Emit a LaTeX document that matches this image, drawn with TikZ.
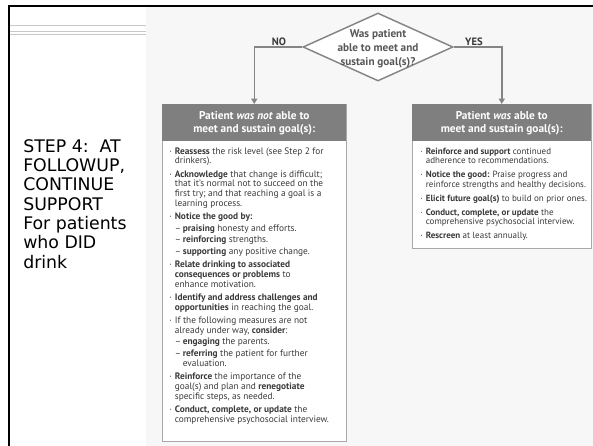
\documentclass[tikz,border=0pt]{standalone}
\usepackage{fontspec}
\setmainfont{DejaVu Sans}
\newfontfamily\chartfont{PT Sans}
\usetikzlibrary{shapes.geometric,arrows.meta}

\definecolor{slidegray}{HTML}{F7F7F7}
\definecolor{headgray}{HTML}{7F7F7F}
\definecolor{linegray}{HTML}{858585}
\definecolor{framegray}{HTML}{A8A8A8}
\definecolor{inkgray}{HTML}{3A3A3A}
\definecolor{rulegray}{HTML}{C8C8C8}

\newcommand{\bul}{\makebox[4.2pt][l]{·}}
\newcommand{\dsh}{\makebox[6pt][l]{–}}
\newcommand{\indt}{\hspace*{4.2pt}}
\newcommand{\igap}{2.6pt}
\newcommand{\sgap}{1.3pt}

\begin{document}
\begin{tikzpicture}[x=0.75pt,y=-0.75pt]
    \tikzstyle{panel}=[draw=framegray, fill=white, line width=0.8pt, anchor=north west, inner sep=0pt]
    \tikzstyle{head}=[fill=headgray, anchor=north west, inner sep=0pt, text=white, align=center,
      font=\chartfont\bfseries\fontsize{8.5}{9.75}\selectfont]
    \tikzstyle{body}=[anchor=base west, inner sep=0pt, text=inkgray, font=\chartfont\fontsize{7}{7.35}\selectfont]
    \tikzstyle{flow}=[draw=linegray, line width=1.1pt, -{Triangle[width=4.5pt,length=4pt]}]
    \tikzstyle{yn}=[text=inkgray, font=\chartfont\bfseries\fontsize{8}{9}\selectfont]
    \useasboundingbox (0,0) rectangle (593,446);
    % slide
    \fill[white] (0,0) rectangle (593,446);
    \fill[slidegray] (146,7) rectangle (593,446);
    \foreach \y in {25,31,34} {\draw[rulegray, line width=0.6pt] (10,\y) -- (146,\y);}
    \draw[black, line width=1.7pt] (9,446) -- (9,6) -- (593,6);
    \node[anchor=base west, inner sep=0pt, font=\fontsize{13}{14.5}\selectfont] (step) at (23,152)
      {\begin{tabular}[t]{@{}l@{}}STEP 4:\ \ AT\\FOLLOWUP,\\CONTINUE\\SUPPORT\\For patients\\who DID\\drink\end{tabular}};
    % question
    \node[diamond, draw=linegray, fill=white, line width=1.1pt, inner sep=0pt,
      minimum width=112.5pt, minimum height=51pt] (goal) at (378,47) {};
    \node[align=center, text=inkgray!85, font=\chartfont\bfseries\fontsize{8.4}{10.5}\selectfont] (ask) at (378,49)
      {Was patient\\able to meet and\\sustain goal(s)?};
    % not able
    \node[panel, minimum width=138pt, minimum height=252.75pt] (nobox) at (162,104) {};
    \node[head, minimum width=138pt, minimum height=27.75pt] (nohead) at (162,104)
      {Patient \textit{was not} able to\\meet and sustain goal(s):};
    \node[body] (notext) at (169,154) {\begin{tabular}[t]{@{}l@{}}
      \bul\textbf{Reassess} the risk level (see Step 2 for\\
      \indt drinkers).\\[\igap]
      \bul\textbf{Acknowledge} that change is difficult;\\
      \indt that it’s normal not to succeed on the\\
      \indt first try; and that reaching a goal is a\\
      \indt learning process.\\[\igap]
      \bul\textbf{Notice the good by:}\\[\sgap]
      \indt\dsh\textbf{praising} honesty and efforts.\\[\sgap]
      \indt\dsh\textbf{reinforcing} strengths.\\[\sgap]
      \indt\dsh\textbf{supporting} any positive change.\\[\igap]
      \bul\textbf{Relate drinking to associated}\\
      \indt\textbf{consequences or problems} to\\
      \indt enhance motivation.\\[\igap]
      \bul\textbf{Identify and address challenges and}\\
      \indt\textbf{opportunities} in reaching the goal.\\[\igap]
      \bul If the following measures are not\\
      \indt already under way, \textbf{consider}:\\[\sgap]
      \indt\dsh\textbf{engaging} the parents.\\[\sgap]
      \indt\dsh\textbf{referring} the patient for further\\
      \indt\hspace*{6pt}evaluation.\\[\igap]
      \bul\textbf{Reinforce} the importance of the\\
      \indt goal(s) and plan and \textbf{renegotiate}\\
      \indt specific steps, as needed.\\[\igap]
      \bul\textbf{Conduct, complete, or update} the\\
      \indt comprehensive psychosocial interview.
    \end{tabular}};
    % able
    \node[panel, minimum width=134.25pt, minimum height=108pt] (yesbox) at (412,104) {};
    \node[head, minimum width=134.25pt, minimum height=27.75pt] (yeshead) at (412,104)
      {Patient \textit{was} able to\\meet and sustain goal(s):};
    \node[body, font=\chartfont\fontsize{6.75}{7.35}\selectfont] (yestext) at (420,154) {\begin{tabular}[t]{@{}l@{}}
      \bul\textbf{Reinforce and support} continued\\
      \indt adherence to recommendations.\\[3pt]
      \bul\textbf{Notice the good:} Praise progress and\\
      \indt reinforce strengths and healthy decisions.\\[3pt]
      \bul\textbf{Elicit future goal(s)} to build on prior ones.\\[3pt]
      \bul\textbf{Conduct, complete, or update} the\\
      \indt comprehensive psychosocial interview.\\[3pt]
      \bul\textbf{Rescreen} at least annually.
    \end{tabular}};
    % branches
    \draw[flow] (goal.west) -| (nohead.north);
    \draw[flow] (goal.east) -| (yeshead.north);
    \node[yn] (no) at (279,42) {NO};
    \node[yn] (yes) at (474,42) {YES};
\end{tikzpicture}
\end{document}
